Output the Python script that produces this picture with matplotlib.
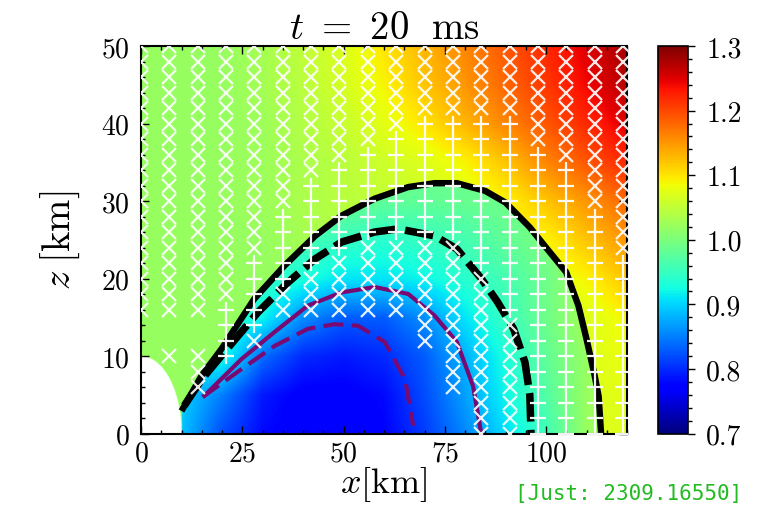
import numpy as np
import matplotlib
matplotlib.use("Agg")
import matplotlib.pyplot as plt
from matplotlib.path import Path

plt.rcParams['font.family'] = 'serif'
plt.rcParams['font.serif'] = ['cmr10', 'DejaVu Serif']
plt.rcParams['mathtext.fontset'] = 'cm'
plt.rcParams['axes.formatter.use_mathtext'] = True

# ---------------- data ----------------
grid_x = [0, 10, 20, 30, 40, 50, 60, 70, 80, 90, 100, 110, 120]      # km
grid_z = [0, 5, 10, 15, 20, 25, 30, 35, 40, 45, 50]                   # km

# field outside the black solid contour (rows: z = 0 ... 50)
outer_vals = [
    [1.02, 1.02, 1.02, 1.02, 1.02, 1.03, 1.04, 1.05, 1.05, 1.06, 1.07, 1.07, 1.07],
    [1.02, 1.02, 1.02, 1.02, 1.02, 1.03, 1.04, 1.05, 1.05, 1.06, 1.07, 1.07, 1.075],
    [1.02, 1.02, 1.02, 1.02, 1.02, 1.03, 1.04, 1.05, 1.05, 1.06, 1.07, 1.07, 1.08],
    [1.02, 1.02, 1.02, 1.02, 1.02, 1.03, 1.04, 1.05, 1.05, 1.06, 1.07, 1.07, 1.09],
    [1.02, 1.02, 1.02, 1.02, 1.02, 1.03, 1.04, 1.05, 1.05, 1.06, 1.07, 1.09, 1.12],
    [1.02, 1.02, 1.02, 1.02, 1.03, 1.04, 1.05, 1.05, 1.06, 1.08, 1.09, 1.12, 1.15],
    [1.02, 1.02, 1.02, 1.025, 1.035, 1.045, 1.05, 1.06, 1.07, 1.09, 1.12, 1.15, 1.18],
    [1.02, 1.02, 1.02, 1.025, 1.035, 1.045, 1.06, 1.07, 1.09, 1.12, 1.16, 1.19, 1.22],
    [1.02, 1.02, 1.02, 1.025, 1.04, 1.055, 1.075, 1.10, 1.13, 1.16, 1.19, 1.22, 1.25],
    [1.02, 1.02, 1.02, 1.03, 1.045, 1.065, 1.09, 1.12, 1.15, 1.18, 1.21, 1.24, 1.27],
    [1.02, 1.02, 1.02, 1.03, 1.05, 1.07, 1.10, 1.13, 1.16, 1.19, 1.22, 1.25, 1.28],
]
# field inside the black solid contour (rows: z = 0 ... 50)
inner_vals = [
    [0.89, 0.89, 0.82, 0.78, 0.765, 0.765, 0.775, 0.81, 0.855, 0.905, 0.955, 1.02, 1.04],
    [0.90, 0.90, 0.85, 0.79, 0.77, 0.77, 0.78, 0.82, 0.87, 0.92, 0.97, 1.02, 1.04],
    [0.93, 0.93, 0.93, 0.84, 0.80, 0.79, 0.80, 0.83, 0.88, 0.93, 0.98, 1.02, 1.04],
    [0.95, 0.95, 0.95, 0.92, 0.86, 0.83, 0.83, 0.86, 0.91, 0.95, 0.99, 1.03, 1.04],
    [0.95, 0.95, 0.95, 0.95, 0.93, 0.91, 0.91, 0.92, 0.94, 0.96, 0.99, 1.03, 1.04],
    [0.96, 0.96, 0.96, 0.96, 0.96, 0.95, 0.94, 0.95, 0.96, 0.98, 1.00, 1.03, 1.04],
    [0.99, 0.99, 0.99, 0.99, 0.99, 0.99, 0.98, 0.98, 0.985, 0.99, 1.00, 1.03, 1.04],
    [0.99, 0.99, 0.99, 0.99, 0.99, 0.99, 0.99, 0.99, 0.99, 0.99, 1.00, 1.03, 1.04],
    [0.99, 0.99, 0.99, 0.99, 0.99, 0.99, 0.99, 0.99, 0.99, 0.99, 1.00, 1.03, 1.04],
    [0.99, 0.99, 0.99, 0.99, 0.99, 0.99, 0.99, 0.99, 0.99, 0.99, 1.00, 1.03, 1.04],
    [0.99, 0.99, 0.99, 0.99, 0.99, 0.99, 0.99, 0.99, 0.99, 0.99, 1.00, 1.03, 1.04],
]
hole_radius = 10.0   # km, no data inside

# contour lines (x, z) in km
black_solid_x = [10, 15, 20, 25, 28, 35.5, 43, 49.5, 57.7, 66, 72.5, 78, 85, 90, 96, 100, 105, 108, 110, 112, 113, 113.6]
black_solid_z = [2.9, 7.5, 11, 15, 17.4, 21.7, 25.5, 28.1, 30.3, 31.8, 32.3, 32.3, 31.3, 29.8, 26.6, 24.0, 20.8, 16.5, 12.2, 7.5, 4.8, 0]
black_dash_x = [10.7, 15, 20.6, 28.8, 36.3, 42.9, 49.5, 57.7, 63.5, 72.5, 78, 84, 88, 92, 94.8, 96, 96.3]
black_dash_z = [3.6, 7.0, 10.5, 15.6, 19.5, 22.5, 24.7, 26.0, 26.4, 25.5, 23.8, 20.0, 17.0, 13.5, 9.2, 5.0, 0]
purple_solid_x = [15.7, 24.8, 33, 41.2, 49.5, 57.7, 66, 72.5, 78, 82, 84]
purple_solid_z = [4.9, 9.6, 13.1, 16.5, 18.2, 18.9, 18.0, 15.2, 11.8, 6.1, 0]
purple_dash_x = [15.2, 24.8, 33, 41.2, 47.8, 53.6, 60.2, 65.2, 67.2]
purple_dash_z = [4.7, 8.3, 11.3, 13.5, 14.1, 13.9, 11.8, 7.0, 1.0]

# marker grid: x = 0, 7, ..., 119 km ; z = 50, 48, ..., 0 km (rows top to bottom)
marker_x = list(range(0, 120, 7))
marker_z = list(range(50, -1, -2))
marker_map = [
    "xxxxxxxxxxxxxxxxxx",  # 50
    "xxxxxxxxxxxxxxxxxx",  # 48
    "xxxxxxxxxxxxxxxxxx",  # 46
    "xxxxxxxxxxxxxxxxxx",  # 44
    "xxxxxxxxxxxxxxxxxx",  # 42
    "xxxxxxxxxx++++xxxx",  # 40
    "xxxxxxxxx+++++xxxx",  # 38
    "xxxxxxxx+++++++xxx",  # 36
    "xxxxxxx+++++++++xx",  # 34
    "xxxxxx++++++++++xx",  # 32
    "xxxxxx++++++++++xx",  # 30
    "xxxxx++++++++++++x",  # 28
    "xxxxx++++++++++++x",  # 26
    "xxxxx+++xxxx+++++x",  # 24
    "xxxx+++xxxxx++++++",  # 22
    "xxxx++xxxxxxx+++++",  # 20
    "xxxx+xxxxxxxx+++++",  # 18
    "xxx++xxxxxxxx+++++",  # 16
    "...++.....xxxx++++",  # 14
    "...+x.....xxxx++++",  # 12
    ".xx+.......xxx++++",  # 10
    "..x........xxx++++",  # 8
    "..x........xxx++++",  # 6
    "............xx++++",  # 4
    "............xx++++",  # 2
    "............xx++++",  # 0
]

title_text = r'$t\ =\ 20\ \ \mathrm{ms}$'
x_label = r'$x[\mathrm{km}]$'
z_label = r'$z\;[\mathrm{km}]$'
x_ticks = [0, 25, 50, 75, 100]
z_ticks = [0, 10, 20, 30, 40, 50]
cbar_ticks = [0.7, 0.8, 0.9, 1.0, 1.1, 1.2, 1.3]
vmin, vmax = 0.7, 1.3
watermark = "[Just: 2309.16550]"

# ---------------- build the field ----------------
xf = np.linspace(0, 120, 961)
zf = np.linspace(0, 50, 801)


def bilinear(vals):
    vals = np.asarray(vals, float)
    rows = np.array([np.interp(xf, grid_x, r) for r in vals])          # (nz, nxf)
    return np.array([np.interp(zf, grid_z, rows[:, k]) for k in range(len(xf))]).T

F_out = bilinear(outer_vals)
F_in = bilinear(inner_vals)
XX, ZZ = np.meshgrid(xf, zf)
poly = list(zip(black_solid_x, black_solid_z)) + [(black_solid_x[0], 0.0), (black_solid_x[0], black_solid_z[0])]
inside = Path(poly).contains_points(np.c_[XX.ravel(), ZZ.ravel()]).reshape(XX.shape)
F = np.where(inside, F_in, F_out)
F = np.where(np.hypot(XX, ZZ) < hole_radius, np.nan, F)

# ---------------- figure ----------------
W, H = 770, 506
fig = plt.figure(figsize=(W / 100, H / 100), dpi=100)
ax = fig.add_axes([141 / W, 1 - 434.5 / H, 486 / W, 387.5 / H])
cmap = plt.get_cmap('jet').copy()
cmap.set_bad('white')
im = ax.imshow(F, origin='lower', extent=[0, 120, 0, 50], aspect='auto',
               cmap=cmap, vmin=vmin, vmax=vmax, interpolation='bilinear', zorder=1)

ax.plot(black_solid_x, black_solid_z, color='black', lw=4.6, solid_joinstyle='round',
        solid_capstyle='butt', zorder=3)
ax.plot(black_dash_x, black_dash_z, color='black', lw=5.4, dashes=(3.8, 1.1), zorder=3)
ax.plot(purple_solid_x, purple_solid_z, color='#7a0a72', lw=3.0, solid_joinstyle='round', zorder=3)
ax.plot(purple_dash_x, purple_dash_z, color='#7a0a72', lw=3.0, dashes=(4.8, 2.0), zorder=3)

xs, zs, ps = [], [], []
for zrow, row in zip(marker_z, marker_map):
    for xv, ch in zip(marker_x, row):
        if ch in 'x+':
            xs.append(xv); zs.append(zrow); ps.append(ch)
xs = np.array(xs); zs = np.array(zs); ps = np.array(ps)
ax.plot(xs[ps == 'x'], zs[ps == 'x'], ls='none', marker='x', ms=10.5, mew=1.6,
        color='white', alpha=0.9, zorder=4)
ax.plot(xs[ps == '+'], zs[ps == '+'], ls='none', marker='+', ms=12, mew=1.6,
        color='white', alpha=0.95, zorder=4)

ax.set_xlim(0, 120)
ax.set_ylim(0, 50)
ax.set_xticks(x_ticks)
ax.set_yticks(z_ticks)
ax.set_xticks(np.arange(0, 121, 5), minor=True)
ax.set_yticks(np.arange(0, 51, 2), minor=True)
ax.tick_params(which='both', direction='in', top=True, right=True, labelsize=20, width=1.0)
ax.tick_params(which='major', length=6)
ax.tick_params(which='minor', length=3)
ax.tick_params(axis='x', pad=5)
ax.tick_params(axis='y', pad=8)
for s in ax.spines.values():
    s.set_linewidth(1.5)

ax.set_title(title_text, fontsize=28, pad=5)
ax.set_xlabel(x_label, fontsize=26, labelpad=-2)
ax.set_ylabel(z_label, fontsize=28, labelpad=14)

cax = fig.add_axes([658 / W, 1 - 434.5 / H, 30 / W, 387.5 / H])
cb = fig.colorbar(im, cax=cax, ticks=cbar_ticks)
cb.ax.set_yticklabels([f'{t:.1f}' for t in cbar_ticks])
cb.ax.set_yticks(np.arange(0.7, 1.3001, 0.02), minor=True)
cb.ax.tick_params(which='both', labelsize=20, width=1.0, pad=8)
cb.ax.tick_params(which='major', length=5)
cb.ax.tick_params(which='minor', length=3)
cb.outline.set_linewidth(1.2)

fig.text(515 / W, 2 / H, watermark, color='#22bb22', fontsize=15,
         family='DejaVu Sans Mono', ha='left', va='bottom')

fig.savefig('out.png', dpi=100)
